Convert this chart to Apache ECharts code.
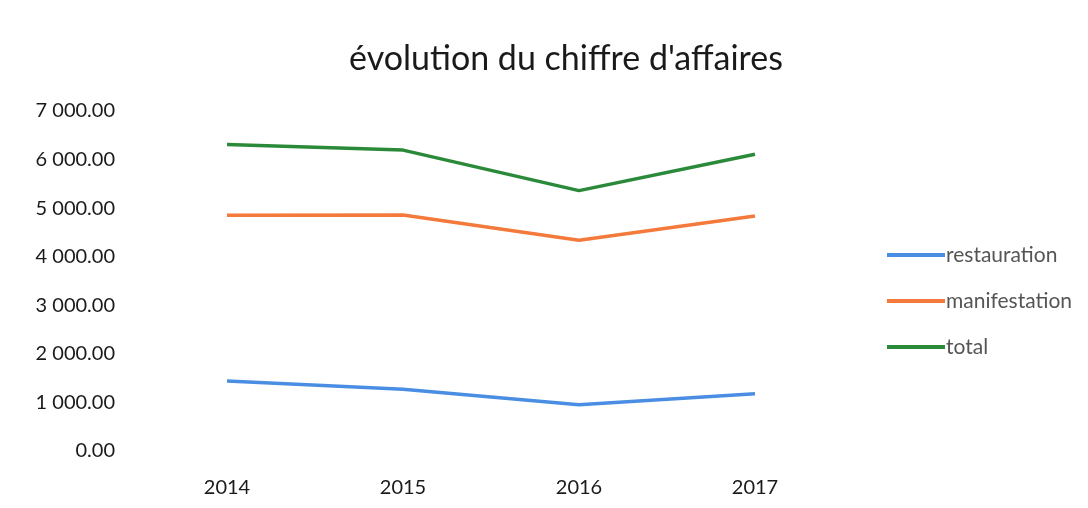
<!DOCTYPE html>
<html>
<head>
<meta charset="utf-8">
<script src="https://cdn.jsdelivr.net/npm/echarts@6/dist/echarts.min.js"></script>
<style>
  html, body { margin: 0; padding: 0; background: #fff; }
  #chart { width: 1088px; height: 508px; }
</style>
</head>
<body>
<div id="chart"></div>
<script>
// données
const years = ['2014', '2015', '2016', '2017'];
const restauration = [1440, 1270, 950, 1180];
const manifestation = [4855, 4860, 4340, 4840];
const total = [6310, 6195, 5360, 6110];

const fontFamily = 'Lato, "Open Sans", sans-serif';

function fmt(v) {
  // format "7 000.00"
  const s = v.toFixed(2).split('.');
  return s[0].replace(/\B(?=(\d{3})+(?!\d))/g, ' ') + '.' + s[1];
}

const chart = echarts.init(document.getElementById('chart'));

const option = {
  animation: false,
  title: {
    text: "évolution du chiffre d'affaires",
    left: 561,
    textAlign: 'center',
    top: 37,
    textStyle: { fontFamily: fontFamily, fontSize: 34, fontWeight: 'normal', color: '#1a1a1a' }
  },
  legend: {
    orient: 'vertical',
    left: 882,
    top: 239,
    icon: 'rect',
    itemWidth: 58,
    itemHeight: 4,
    itemGap: 24,
    textStyle: { fontFamily: fontFamily, fontSize: 21, lineHeight: 22, color: '#555', padding: [0, 0, 0, -4] },
    data: ['restauration', 'manifestation', 'total']
  },
  grid: {
    left: 139,
    right: 1088 - 843,
    top: 111,
    bottom: 57
  },
  xAxis: {
    type: 'category',
    data: years,
    axisLine: { show: false },
    axisTick: { show: false },
    axisLabel: { margin: 27, fontFamily: fontFamily, fontSize: 20, color: '#1a1a1a' }
  },
  yAxis: {
    type: 'value',
    min: 0,
    max: 7000,
    interval: 1000,
    splitLine: { show: false },
    axisLine: { show: false },
    axisTick: { show: false },
    axisLabel: { margin: 24, fontFamily: fontFamily, fontSize: 20, color: '#1a1a1a', formatter: fmt }
  },
  series: [
    {
      name: 'restauration',
      type: 'line',
      data: restauration,
      symbol: 'none',
      color: '#4a8ee3',
      lineStyle: { width: 3.5 }
    },
    {
      name: 'manifestation',
      type: 'line',
      data: manifestation,
      symbol: 'none',
      color: '#f47a3c',
      lineStyle: { width: 3.5 }
    },
    {
      name: 'total',
      type: 'line',
      data: total,
      symbol: 'none',
      color: '#2b8a3a',
      lineStyle: { width: 3.5 }
    }
  ]
};

chart.setOption(option);
</script>
</body>
</html>
